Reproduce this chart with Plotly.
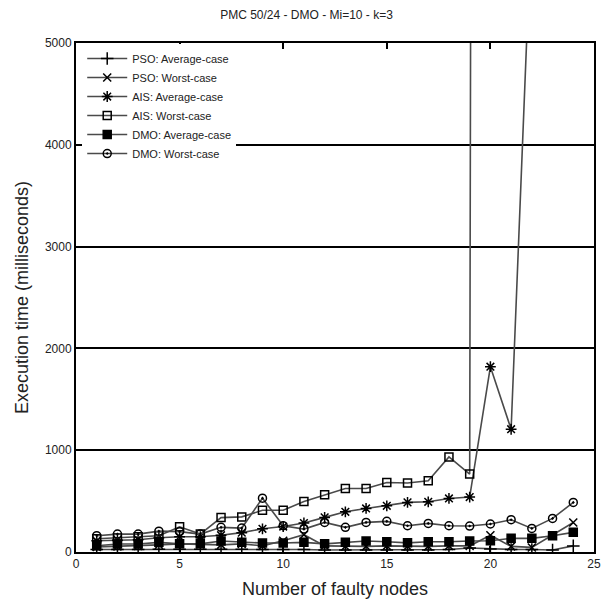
import plotly.graph_objects as go

x_nodes = list(range(1, 25))

pso_avg = [25, 25, 25, 28, 28, 28, 28, 28, 25, 25, 25, 20, 20, 20, 20, 20, 20, 25, 40, 30, 25, 25, 20, 60]
pso_worst = [50, 55, 60, 70, 80, 75, 70, 80, 60, 110, 170, 60, 55, 55, 60, 55, 55, 60, 60, 165, 55, 45, 165, 290]
ais_avg = [110, 115, 120, 140, 150, 150, 165, 190, 228, 250, 285, 340, 395, 428, 454, 487, 493, 526, 540, 1820, 1206, 6300, 7500, 8500]
ais_worst = [130, 140, 150, 160, 248, 176, 338, 345, 410, 410, 497, 562, 624, 624, 683, 678, 699, 934, 765, 100000, 110000, 120000, 130000, 140000]
dmo_avg = [62, 78, 78, 95, 80, 80, 108, 95, 88, 88, 95, 80, 95, 108, 100, 90, 100, 100, 108, 111, 134, 134, 160, 193]
dmo_worst = [160, 176, 176, 205, 200, 176, 242, 235, 529, 258, 225, 291, 242, 291, 301, 258, 281, 258, 255, 275, 317, 232, 330, 487]

series = [
    ("PSO: Average-case", pso_avg, "cross-thin-open", 9),
    ("PSO: Worst-case", pso_worst, "x-thin-open", 8),
    ("AIS: Average-case", ais_avg, "asterisk-open", 9),
    ("AIS: Worst-case", ais_worst, "square-open", 8),
    ("DMO: Average-case", dmo_avg, "square", 8),
    ("DMO: Worst-case", dmo_worst, "circle-open-dot", 8),
]

y_ticks = [0, 1000, 2000, 3000, 4000, 5000]
x_ticks = [0, 5, 10, 15, 20, 25]

fig = go.Figure()
for name, vals, sym, sz in series:
    fig.add_trace(go.Scatter(
        x=x_nodes, y=vals, name=name, mode="lines+markers",
        line=dict(color="#4a4a4a", width=1.6),
        marker=dict(symbol=sym, size=sz, color="black",
                    line=dict(color="black", width=1.5)),
        cliponaxis=True,
    ))

font_family = "Liberation Sans Narrow, Liberation Sans, Arial"

fig.update_layout(
    width=613, height=608,
    paper_bgcolor="white", plot_bgcolor="white",
    margin=dict(l=76, r=12, t=43, b=55),
    title=dict(text="PMC 50/24 - DMO - Mi=10 - k=3", x=0.5, xanchor="center",
               y=0.975, yanchor="middle",
               font=dict(family=font_family, size=12, color="#222")),
    font=dict(family=font_family, color="#222"),
    showlegend=True,
    legend=dict(x=0.012, y=0.998, xanchor="left", yanchor="top",
                bgcolor="white", borderwidth=0,
                font=dict(family=font_family, size=11, color="#222"),
                tracegroupgap=0, itemwidth=40),
)
fig.update_xaxes(
    range=[0, 25], tickvals=x_ticks, ticks="inside", ticklen=6,
    tickcolor="black", tickwidth=1.5,
    showline=True, linecolor="black", linewidth=2, mirror="allticks",
    showgrid=False, zeroline=False,
    tickfont=dict(family=font_family, size=12, color="#222"),
    title=dict(text="Number of faulty nodes", standoff=12,
               font=dict(family=font_family, size=18, color="#222")),
)
fig.update_yaxes(
    range=[0, 5000], tickvals=y_ticks, ticks="inside", ticklen=6,
    tickcolor="black", tickwidth=1.5,
    showline=True, linecolor="black", linewidth=2, mirror="allticks",
    showgrid=True, gridcolor="black", gridwidth=2, zeroline=False,
    tickfont=dict(family=font_family, size=12, color="#222"),
    title=dict(text="Execution time (milliseconds)", standoff=12,
               font=dict(family="Liberation Sans, Arial", size=18, color="#222")),
)

fig.write_html("out.html")
